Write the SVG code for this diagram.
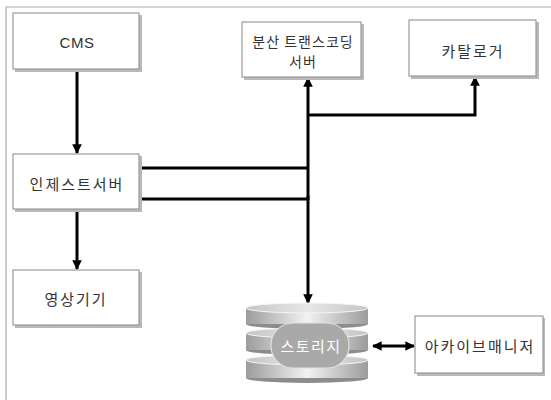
<svg xmlns="http://www.w3.org/2000/svg" width="551" height="400" viewBox="0 0 551 400">
<defs>
<style>
.box{fill:#fff;stroke:#9a9a9a;stroke-width:1.2}
.shd{fill:#b8b8b8}
.t{font-family:"Noto Sans CJK KR","Liberation Sans",sans-serif;font-size:15px;letter-spacing:2px;fill:#333;text-anchor:middle;dominant-baseline:central}
.ln{stroke:#000;stroke-width:3;fill:none}
</style>
<marker id="ah" viewBox="0 0 10 10" refX="9" refY="5" markerWidth="3.2" markerHeight="3.2" orient="auto-start-reverse" markerUnits="strokeWidth">
<path d="M0,0 L10,5 L0,10 z" fill="#000"/>
</marker>
<linearGradient id="side" x1="0" y1="0" x2="1" y2="0">
<stop offset="0" stop-color="#9c9c9c"/>
<stop offset="0.5" stop-color="#f2f2f2"/>
<stop offset="1" stop-color="#9c9c9c"/>
</linearGradient>
<linearGradient id="top" x1="0" y1="0" x2="1" y2="0">
<stop offset="0" stop-color="#c4c4c4"/>
<stop offset="0.5" stop-color="#e8e8e8"/>
<stop offset="1" stop-color="#c4c4c4"/>
</linearGradient>
</defs>
<rect x="0" y="0" width="551" height="400" fill="#fff"/>
<path d="M6,400 V7 H551" fill="none" stroke="#aaa" stroke-width="1.2"/>

<g id="connectors">
<line class="ln" x1="77" y1="69" x2="77" y2="153" marker-end="url(#ah)" stroke-width="2.5"/>
<line class="ln" x1="77" y1="209" x2="77" y2="269" marker-end="url(#ah)" stroke-width="2.5"/>
<polyline class="ln" points="139,168 308,168"/>
<polyline class="ln" points="139,199 308,199"/>
<line class="ln" x1="308" y1="200" x2="308" y2="78" marker-end="url(#ah)"/>
<polyline class="ln" points="308,115 475,115 475,77" marker-end="url(#ah)"/>
<line class="ln" x1="308" y1="196" x2="308" y2="303" marker-end="url(#ah)"/>
<line class="ln" x1="373" y1="346" x2="414" y2="346" marker-start="url(#ah)" marker-end="url(#ah)" stroke-width="2.5"/>
</g>

<g id="cms">
<rect class="shd" x="15" y="15" width="127" height="57"/>
<rect class="box" x="13" y="13" width="126" height="56"/>
<text class="t" x="77" y="42" style="font-family:'Liberation Sans',sans-serif;letter-spacing:0.5px">CMS</text>
</g>

<g id="ingest">
<rect class="shd" x="15" y="156" width="127" height="56"/>
<rect class="box" x="13" y="154" width="126" height="55"/>
<text class="t" x="77" y="183">인제스트서버</text>
</g>

<g id="video">
<rect class="shd" x="15" y="272" width="127" height="56"/>
<rect class="box" x="13" y="270" width="126" height="55"/>
<text class="t" x="76" y="298">영상기기</text>
</g>

<g id="transcoding">
<rect class="shd" x="244" y="24" width="120" height="56"/>
<rect class="box" x="242" y="22" width="119" height="55"/>
<text class="t" x="303" y="41" style="font-size:14px;letter-spacing:1px">분산 트랜스코딩</text>
<text class="t" x="303" y="61" style="font-size:14px;letter-spacing:1px">서버</text>
</g>

<g id="cataloger">
<rect class="shd" x="411" y="22" width="128" height="57"/>
<rect class="box" x="409" y="20" width="127" height="56"/>
<text class="t" x="473" y="50">카탈로거</text>
</g>

<g id="archive">
<rect class="shd" x="417" y="318" width="128" height="58"/>
<rect class="box" x="415" y="316" width="128" height="57"/>
<text class="t" x="480" y="345">아카이브매니저</text>
</g>

<g id="storage">
<ellipse cx="307" cy="378" rx="61" ry="5" fill="#8c8c8c"/>
<rect x="246" y="360" width="122" height="18" fill="url(#side)"/>
<ellipse cx="307" cy="360" rx="61" ry="5" fill="url(#top)" stroke="#f5f5f5" stroke-width="1"/>
<ellipse cx="307" cy="350" rx="61" ry="5" fill="#8c8c8c"/>
<rect x="246" y="333" width="122" height="17" fill="url(#side)"/>
<ellipse cx="307" cy="333" rx="61" ry="5" fill="url(#top)" stroke="#f5f5f5" stroke-width="1"/>
<ellipse cx="307" cy="324" rx="61" ry="5" fill="#8c8c8c"/>
<rect x="246" y="308" width="122" height="16" fill="url(#side)"/>
<ellipse cx="307" cy="308" rx="61" ry="5" fill="url(#top)" stroke="#f5f5f5" stroke-width="1"/>
<rect x="271" y="323" width="78" height="45" rx="22" fill="#a9a9a9" stroke="#e0e0e0" stroke-width="1.2"/>
<text class="t" x="311" y="345" style="fill:#fff;letter-spacing:1.5px">스토리지</text>
</g>
</svg>
